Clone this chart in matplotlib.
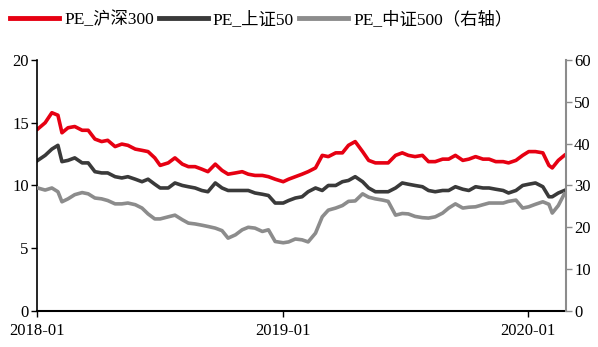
import pandas as pd
import matplotlib.pyplot as plt
import matplotlib.dates as mdates

plt.rcParams['font.family'] = ['Liberation Serif', 'Noto Sans CJK SC']

# Datas (aprox. a cada 10 dias)
datas = ["2018-01-02", "2018-01-13", "2018-01-23", "2018-02-01", "2018-02-07", "2018-02-16",
         "2018-02-26", "2018-03-09", "2018-03-18", "2018-03-28", "2018-04-07", "2018-04-16",
         "2018-04-27", "2018-05-07", "2018-05-16", "2018-05-27", "2018-06-06", "2018-06-15",
         "2018-06-25", "2018-07-03", "2018-07-15", "2018-07-25", "2018-08-05", "2018-08-14",
         "2018-08-24", "2018-09-03", "2018-09-12", "2018-09-23", "2018-10-03", "2018-10-12",
         "2018-10-23", "2018-11-02", "2018-11-11", "2018-11-21", "2018-12-02", "2018-12-11",
         "2018-12-21", "2019-01-02", "2019-01-10", "2019-01-20", "2019-01-30", "2019-02-08",
         "2019-02-19", "2019-03-01", "2019-03-10", "2019-03-21", "2019-03-31", "2019-04-09",
         "2019-04-19", "2019-04-30", "2019-05-09", "2019-05-19", "2019-05-30", "2019-06-07",
         "2019-06-18", "2019-06-28", "2019-07-07", "2019-07-17", "2019-07-28", "2019-08-06",
         "2019-08-16", "2019-08-27", "2019-09-05", "2019-09-15", "2019-09-26", "2019-10-05",
         "2019-10-15", "2019-10-26", "2019-11-04", "2019-11-14", "2019-11-25", "2019-12-03",
         "2019-12-14", "2019-12-24", "2020-01-02", "2020-01-12", "2020-01-23", "2020-02-01",
         "2020-02-06", "2020-02-15", "2020-02-24"]

# PE 沪深300 (eixo esquerdo)
pe_hs300 = [14.5, 15.0, 15.8, 15.6, 14.2, 14.6, 14.7, 14.4, 14.4, 13.7, 13.5, 13.6,
            13.1, 13.3, 13.2, 12.9, 12.8, 12.7, 12.2, 11.6, 11.8, 12.2, 11.7, 11.5,
            11.5, 11.3, 11.1, 11.7, 11.2, 10.9, 11.0, 11.1, 10.9, 10.8, 10.8, 10.7,
            10.5, 10.3, 10.5, 10.7, 10.9, 11.1, 11.4, 12.4, 12.3, 12.6, 12.6, 13.2,
            13.5, 12.7, 12.0, 11.8, 11.8, 11.8, 12.4, 12.6, 12.4, 12.3, 12.4, 11.9,
            11.9, 12.1, 12.1, 12.4, 12.0, 12.1, 12.3, 12.1, 12.1, 11.9, 11.9, 11.8,
            12.0, 12.4, 12.7, 12.7, 12.6, 11.6, 11.4, 12.0, 12.4]

# PE 上证50 (eixo esquerdo)
pe_sz50 = [12.0, 12.4, 12.9, 13.2, 11.9, 12.0, 12.2, 11.8, 11.8, 11.1, 11.0, 11.0,
           10.7, 10.6, 10.7, 10.5, 10.3, 10.5, 10.1, 9.8, 9.8, 10.2, 10.0, 9.9,
           9.8, 9.6, 9.5, 10.2, 9.8, 9.6, 9.6, 9.6, 9.6, 9.4, 9.3, 9.2,
           8.6, 8.6, 8.8, 9.0, 9.1, 9.5, 9.8, 9.6, 10.0, 10.0, 10.3, 10.4,
           10.7, 10.3, 9.8, 9.5, 9.5, 9.5, 9.8, 10.2, 10.1, 10.0, 9.9, 9.6,
           9.5, 9.6, 9.6, 9.9, 9.7, 9.6, 9.9, 9.8, 9.8, 9.7, 9.6, 9.4,
           9.6, 10.0, 10.1, 10.2, 9.9, 9.1, 9.1, 9.4, 9.6]

# PE 中证500 (eixo direito)
pe_zz500 = [29.4, 28.9, 29.4, 28.5, 26.1, 26.8, 27.8, 28.3, 28.0, 27.0, 26.8, 26.4,
            25.6, 25.6, 25.8, 25.4, 24.6, 23.2, 22.0, 22.0, 22.5, 22.9, 21.8, 21.0,
            20.8, 20.5, 20.2, 19.8, 19.2, 17.4, 18.2, 19.4, 20.0, 19.8, 19.0, 19.4,
            16.6, 16.3, 16.5, 17.2, 17.0, 16.5, 18.6, 22.5, 24.1, 24.6, 25.2, 26.2,
            26.3, 28.0, 27.2, 26.8, 26.5, 26.2, 22.9, 23.3, 23.2, 22.6, 22.3, 22.2,
            22.5, 23.4, 24.6, 25.6, 24.6, 24.8, 24.9, 25.4, 25.8, 25.8, 25.8, 26.2,
            26.5, 24.6, 24.9, 25.5, 26.1, 25.5, 23.4, 25.2, 28.0]

x = pd.to_datetime(datas)

fig = plt.figure(figsize=(5.98, 3.47), dpi=100)
ax = fig.add_axes([0.062, 0.104, 0.884, 0.723])
ax2 = ax.twinx()

l1, = ax.plot(x, pe_hs300, color='#E60012', lw=2.6, label='PE_沪深300')
l2, = ax.plot(x, pe_sz50, color='#3A3A3A', lw=2.6, label='PE_上证50')
l3, = ax2.plot(x, pe_zz500, color='#8C8C8C', lw=2.6, label='PE_中证500（右轴）')

ax.set_ylim(0, 20)
ax.set_yticks([0, 5, 10, 15, 20])
ax2.set_ylim(0, 60)
ax2.set_yticks([0, 10, 20, 30, 40, 50, 60])
ax.set_xlim(pd.Timestamp("2018-01-01"), pd.Timestamp("2020-02-26"))
ax.set_xticks(pd.to_datetime(["2018-01-01", "2019-01-01", "2020-01-01"]))
ax.xaxis.set_major_formatter(mdates.DateFormatter('%Y-%m'))

# Eixos
for a in (ax, ax2):
    a.spines['top'].set_visible(False)
ax.spines['right'].set_visible(False)
ax2.spines['left'].set_visible(False)
ax2.spines['bottom'].set_visible(False)
ax.spines['left'].set_linewidth(1.2)
ax.spines['bottom'].set_linewidth(1.5)
ax2.spines['right'].set_color('#8C8C8C')
ax2.spines['right'].set_linewidth(1.5)
ax.tick_params(axis='y', labelsize=12, length=4, width=1, pad=2)
ax.tick_params(axis='x', labelsize=12, length=4, width=1, pad=5)
ax2.tick_params(axis='y', labelsize=12, length=4, width=1, color='#8C8C8C', pad=2)

fig.legend(handles=[l1, l2, l3], loc='center', bbox_to_anchor=(0.437, 0.942), ncol=3,
           frameon=False, fontsize=12.5, handlelength=2.8, handletextpad=0.3,
           columnspacing=0.3)
for line in fig.legends[0].get_lines():
    line.set_linewidth(3.5)

plt.savefig("out.png", dpi=100)
plt.close()
